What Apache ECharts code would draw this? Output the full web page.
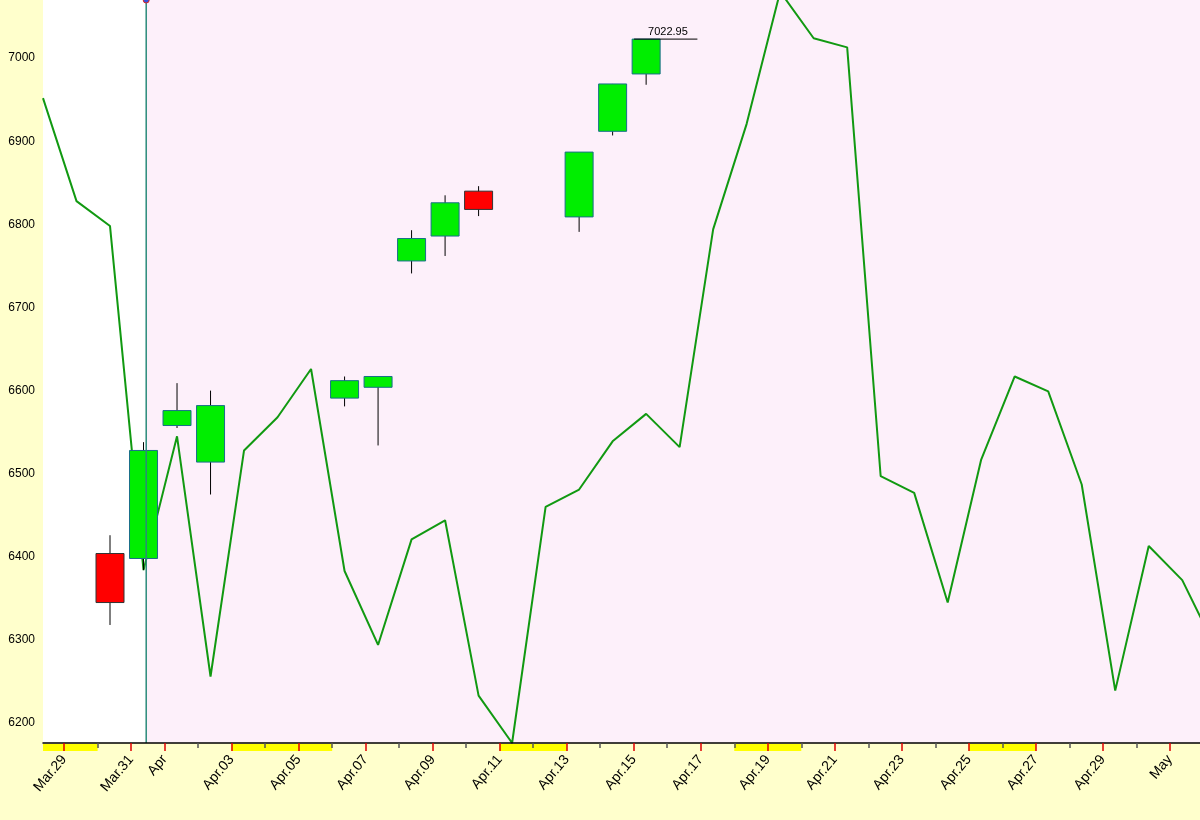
<!DOCTYPE html>
<html><head><meta charset="utf-8">
<script src="https://cdn.jsdelivr.net/npm/echarts@6/dist/echarts.min.js"></script>
<style>html,body{margin:0;padding:0;background:#ffffcc}#c{width:1200px;height:820px}</style>
</head><body><div id="c"></div>
<script>
// day index: Mar.29 = 0
const tickLabels = ['Mar.29','Mar.30','Mar.31','Apr','Apr.02','Apr.03','Apr.04','Apr.05','Apr.06','Apr.07','Apr.08','Apr.09','Apr.10','Apr.11','Apr.12','Apr.13','Apr.14','Apr.15','Apr.16','Apr.17','Apr.18','Apr.19','Apr.20','Apr.21','Apr.22','Apr.23','Apr.24','Apr.25','Apr.26','Apr.27','Apr.28','Apr.29','Apr.30','May'];
const labelDays = [0,2,3,5,7,9,11,13,15,17,19,21,23,25,27,29,31,33];
// line: one value per day starting Mar.28 (day -1)
const lineStart = -1;
const lineValues = [6952,6828,6798,6384,6545,6256,6528,6568,6626,6383,6294,6421,6444,6233,6176,6460,6481,6539,6572,6532,6794,6921,7080,7024,7013,6497,6477,6345,6517,6617,6599,6487,6239,6413,6372,6290];
// candles: [day, open, close, low, high]
const candles = [
  [1,6404,6345,6318,6426],
  [2,6398,6528,6384,6538],
  [3,6558,6576,6555,6609],
  [4,6514,6582,6475,6600],
  [8,6591,6612,6581,6617],
  [9,6604,6617,6534,6617],
  [10,6756,6783,6741,6793],
  [11,6786,6826,6762,6835],
  [12,6840,6818,6810,6846],
  [15,6809,6887,6791,6887],
  [16,6912,6969,6907,6969],
  [17,6981,7022.95,6968,7022.95]
];
const weekends = [[-0.63,1],[5,8],[13,15],[20,22],[27,29]];
const yMajor = [6200,6300,6400,6500,6600,6700,6800,6900,7000];
const yMinor = [6250,6350,6450,6550,6650,6750,6850,6950,7050];
const off = 0.37; // marks sit inside the day
const vLineDay = 2.45;

const chart = echarts.init(document.getElementById('c'));
const xBase = {type:'value', min:-0.63, max:33.9, splitLine:{show:false}, z:10};
const allDays = tickLabels.map((_, i) => i);
chart.setOption({
  backgroundColor:'#ffffcc',
  animation:false,
  grid:{left:43, right:0, top:0, bottom:77, show:true, backgroundColor:'#fdf0fa', borderWidth:0},
  xAxis:[
    Object.assign({}, xBase, {
      axisLine:{lineStyle:{color:'#000', width:1.5}},
      axisTick:{show:true, length:8, lineStyle:{color:'#e00000', width:1.5}, customValues:labelDays},
      axisLabel:{customValues:labelDays, rotate:50, color:'#000', fontFamily:'Arial', fontSize:14, margin:14,
        formatter:v => tickLabels[Math.round(v)]}
    }),
    Object.assign({}, xBase, {
      position:'bottom', axisLine:{show:false},
      axisTick:{show:true, length:5, lineStyle:{color:'#555', width:1.5}, customValues:allDays.filter(d => !labelDays.includes(d))},
      axisLabel:{show:false}
    })
  ],
  yAxis:[
    {type:'value', min:6176, max:7070, splitLine:{show:false},
      axisLine:{show:true, lineStyle:{color:'#000', width:1.5}},
      axisTick:{show:true, length:6, lineStyle:{color:'#000'}, customValues:yMajor},
      axisLabel:{customValues:yMajor, color:'#000', fontFamily:'Arial', fontSize:12, formatter:v => String(v)}},
    {type:'value', min:6176, max:7070, position:'left', splitLine:{show:false},
      axisLine:{show:false},
      axisTick:{show:true, length:6, lineStyle:{color:'#d00000'}, customValues:yMinor},
      axisLabel:{show:false}}
  ],
  series:[
    {type:'custom', xAxisIndex:0, yAxisIndex:0, clip:false, silent:true, z:1,
      data:[[-0.63, vLineDay]],
      renderItem:(p, api) => {
        const a = api.coord([api.value(0), 7070]);
        const b = api.coord([api.value(1), 6176]);
        return {type:'rect', shape:{x:a[0], y:a[1], width:b[0]-a[0], height:b[1]-a[1]}, style:{fill:'#ffffff'}};
      }},
    {type:'custom', xAxisIndex:0, yAxisIndex:0, clip:false, silent:true, z:1,
      data:weekends,
      renderItem:(p, api) => {
        const a = api.coord([api.value(0), 6176]);
        const b = api.coord([api.value(1), 6176]);
        return {type:'rect', shape:{x:a[0], y:a[1]+1, width:b[0]-a[0], height:7}, style:{fill:'#ffff00'}};
      }},
    {type:'line', xAxisIndex:0, yAxisIndex:0, symbol:'none', z:3,
      lineStyle:{color:'#119911', width:2},
      data:lineValues.map((v, i) => [lineStart + i + off, v])},
    {type:'custom', xAxisIndex:0, yAxisIndex:0, z:4,
      data:candles.map(c => [c[0] + off, c[1], c[2], c[3], c[4]]),
      renderItem:(p, api) => {
        const x = api.value(0), o = api.value(1), cl = api.value(2), lo = api.value(3), hi = api.value(4);
        const pH = api.coord([x, hi]), pL = api.coord([x, lo]);
        const pT = api.coord([x, Math.max(o, cl)]), pB = api.coord([x, Math.min(o, cl)]);
        const w = 28, up = cl >= o;
        return {type:'group', children:[
          {type:'line', shape:{x1:pH[0], y1:pH[1], x2:pL[0], y2:pL[1]}, style:{stroke:'#000', lineWidth:1}},
          {type:'rect', shape:{x:pT[0]-w/2, y:pT[1], width:w, height:pB[1]-pT[1]},
            style:{fill:up ? '#00ee00' : '#ff0000', stroke:up ? '#1a6e8a' : '#333', lineWidth:1}}
        ]};
      }},
    {type:'custom', xAxisIndex:0, yAxisIndex:0, z:5, clip:false,
      data:[[vLineDay]],
      renderItem:(p, api) => {
        const a = api.coord([api.value(0), 7070]), b = api.coord([api.value(0), 6176]);
        return {type:'group', children:[
          {type:'line', shape:{x1:a[0], y1:a[1], x2:b[0], y2:b[1]}, style:{stroke:'#2a8a7a', lineWidth:1.5}},
          {type:'circle', shape:{cx:a[0], cy:a[1], r:3}, style:{fill:'#3355dd', stroke:'#dd2222'}}
        ]};
      }},
    {type:'custom', xAxisIndex:0, yAxisIndex:0, z:5,
      data:[[17.01, 18.9, 7022.95]],
      renderItem:(p, api) => {
        const a = api.coord([api.value(0), api.value(2)]), b = api.coord([api.value(1), api.value(2)]);
        return {type:'group', children:[
          {type:'line', shape:{x1:a[0], y1:a[1], x2:b[0], y2:b[1]}, style:{stroke:'#000', lineWidth:1}},
          {type:'text', x:a[0]+14, y:a[1]-2, style:{text:String(api.value(2)), fill:'#000', fontSize:11, fontFamily:'Arial', textVerticalAlign:'bottom'}}
        ]};
      }}
  ]
});
</script></body></html>
